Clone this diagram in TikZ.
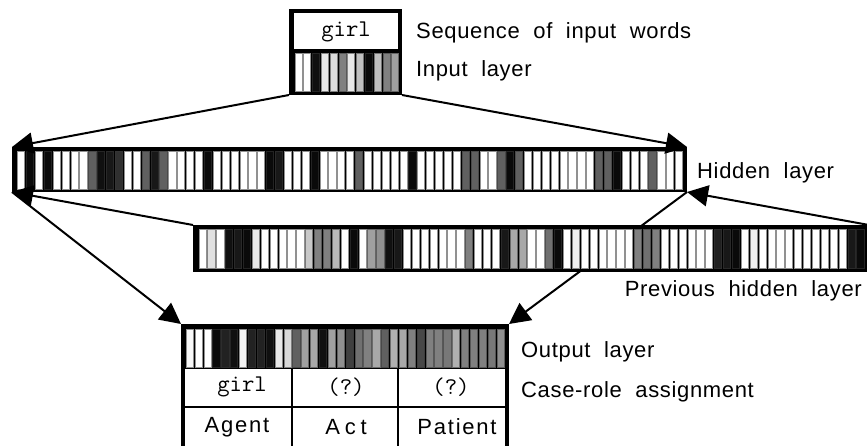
\documentclass[tikz,border=0pt]{standalone}
\usepackage{fontspec}
\setmainfont{Liberation Sans}
\newfontfamily\labfont{Liberation Sans}[LetterSpace=3,WordSpace=2]
\newfontfamily\rolefont{Liberation Sans}[LetterSpace=8]
\newfontfamily\actfont{Liberation Sans}[LetterSpace=22]
\usetikzlibrary{arrows.meta}
\newcommand{\cellrow}[5]{%
  \foreach \g [count=\i from 0] in {#5} {
    \pgfmathsetmacro\pc{\g/2.55}
    \pgfmathsetmacro\bc{(0.45*\g+30)/2.55}
    \path[fill=white!\pc!black, draw=white!\bc!black, line width=0.7pt]
      ({#1+\i*#3+0.9}, #2) rectangle ({#1+(\i+1)*#3-0.8}, {#2+#4});
  }%
}
\tikzset{
  layer/.style={fill=black, draw=none, inner sep=0pt, outer sep=0pt, anchor=north west},
  arr/.style={line width=2pt, -{Triangle[length=21pt,width=21pt]}},
  lab/.style={font=\labfont\fontsize{22}{26}\selectfont, inner sep=0pt, anchor=base west},
  monotxt/.style={font=\ttfamily\fontsize{24}{28}\selectfont, inner sep=0pt},
  roletxt/.style={font=\rolefont\fontsize{22}{26}\selectfont, inner sep=0pt}
}
\begin{document}
\begin{tikzpicture}[x=1pt,y=-1pt]
\useasboundingbox (0,0) rectangle (867,446);

% input layer
\node[layer, minimum width=113pt, minimum height=86pt] (inp) at (289,9) {};
\fill[white] (294,13.3) rectangle (398,49.5);
\node[monotxt] (inword) at (346,31.5) {girl};
\cellrow{294}{53.3}{8.8}{38.4}{255,255,16,232,220,128,232,192,10,192,128,160}

% hidden layer
\node[layer, minimum width=675pt, minimum height=45pt] (hid) at (12,147) {};
\cellrow{16.7}{151}{8.89}{38}{255,10,255,10,255,255,255,255,96,16,24,48,255,255,96,24,96,255,255,255,255,10,255,255,255,255,255,255,10,24,255,255,255,10,255,255,255,255,96,255,255,255,255,255,10,255,255,255,255,255,96,96,255,255,96,10,96,255,255,255,255,255,255,255,255,96,96,10,255,255,255,96,255,255,255}

% output layer
\node[layer, minimum width=328pt, minimum height=125pt] (out) at (181,324) {};
\cellrow{185.3}{329}{8.88}{38}{248,255,255,10,34,16,244,34,34,16,232,216,96,160,168,16,160,144,64,112,128,168,96,176,168,128,72,128,128,120,176,128,128,128,120,144}
\fill[white] (185,368.5) rectangle (291.2,406.3);
\fill[white] (292.8,368.5) rectangle (397.2,406.3);
\fill[white] (398.8,368.5) rectangle (505,406.3);
\fill[white] (185,407.9) rectangle (291.2,450);
\fill[white] (292.8,407.9) rectangle (397.2,450);
\fill[white] (398.8,407.9) rectangle (505,450);
\node[monotxt] (o1) at (242,387) {girl};
\node[monotxt] (o2) at (346,387) {(?)};
\node[monotxt] (o3) at (451,387) {(?)};
\node[roletxt] (r1) at (237,427) {Agent};
\node[roletxt, font=\actfont\fontsize{22}{26}\selectfont] (r2) at (346,427) {Act};
\node[roletxt] (r3) at (457,427) {Patient};

% connections hidden -> output (behind previous hidden layer)
\draw[arr] (hid.south west) -- (out.north west);
\draw[arr] (hid.south east) -- (out.north east);

% previous hidden layer
\node[layer, minimum width=676pt, minimum height=47pt] (prev) at (193,225) {};
\cellrow{198}{229.5}{8.89}{38.5}{255,224,255,16,24,10,232,255,255,255,255,255,200,128,128,184,255,10,255,160,144,16,24,255,255,255,255,255,255,255,128,255,255,255,24,168,168,255,255,112,10,255,240,255,255,255,255,255,255,128,112,128,255,255,255,255,255,255,32,24,10,255,240,255,255,255,255,255,255,255,255,255,255,24,10}

% other connections
\draw[arr] (inp.south west) -- (hid.north west);
\draw[arr] (inp.south east) -- (hid.north east);
\draw[arr] (prev.north west) -- (hid.south west);
\draw[arr] (prev.north east) -- (hid.south east);

% labels
\node[lab] (l1) at (416,39) {Sequence of input words};
\node[lab] (l2) at (416,77) {Input layer};
\node[lab] (l3) at (697,179) {Hidden layer};
\node[lab, anchor=base east] (l4) at (862,296) {Previous hidden layer};
\node[lab] (l5) at (521,357) {Output layer};
\node[lab] (l6) at (521,397) {Case-role assignment};
\end{tikzpicture}
\end{document}
